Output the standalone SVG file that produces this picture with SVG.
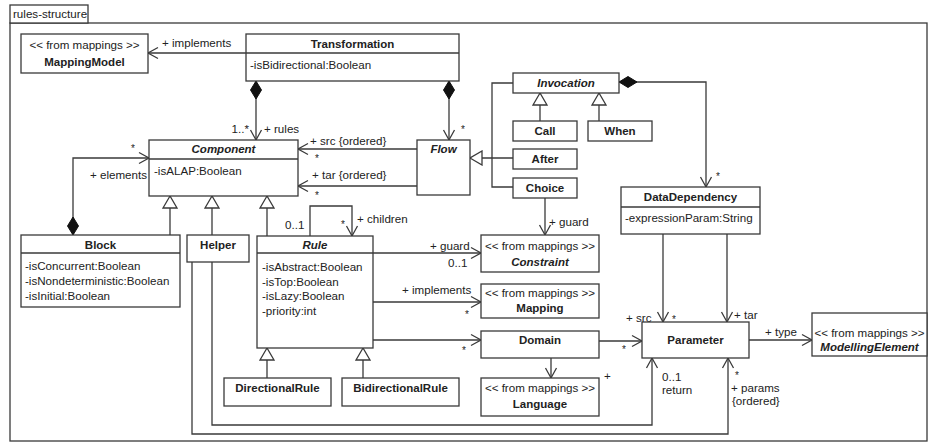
<svg xmlns="http://www.w3.org/2000/svg" width="929" height="443" viewBox="0 0 929 443">
<style>
.box{fill:#fff;stroke:#3a3a3a;stroke-width:1.3}
.ln{fill:none;stroke:#3a3a3a;stroke-width:1.3}
text{font-family:"Liberation Sans",Arial,sans-serif;font-size:11.6px;fill:#222}
.b{font-weight:bold;font-size:11.5px}
.bi{font-weight:bold;font-style:italic;font-size:11.5px}
.c{text-anchor:middle}
.e{text-anchor:end}
.s{font-size:10px}
</style>
<defs>
<marker id="arr" viewBox="-12 -7 14 14" refX="0" refY="0" markerWidth="14" markerHeight="14" markerUnits="userSpaceOnUse" orient="auto"><path d="M-10,-5.5 L0,0 L-10,5.5" fill="none" stroke="#3a3a3a" stroke-width="1.3"/></marker>
<marker id="dia" viewBox="-1 -7 21 14" refX="0" refY="0" markerWidth="21" markerHeight="14" markerUnits="userSpaceOnUse" orient="auto"><path d="M0,0 L9,-5.5 L18,0 L9,5.5 Z" fill="#111" stroke="#111" stroke-width="1"/></marker>
<marker id="gen" viewBox="-14 -8 15 16" refX="0" refY="0" markerWidth="15" markerHeight="16" markerUnits="userSpaceOnUse" orient="auto"><path d="M0,0 L-12,-7 L-12,7 Z" fill="#fff" stroke="#3a3a3a" stroke-width="1.3"/></marker>
</defs>
<rect width="929" height="443" fill="#fff"/>
<g id="frame">
<rect x="10" y="23" width="917" height="418" class="ln"/>
<rect x="10" y="5" width="78" height="18" class="box"/>
<text x="13" y="18">rules-structure</text>
</g>
<g id="connectors">
<path class="ln" d="M246,53 L148,53" marker-end="url(#arr)"/>
<path class="ln" d="M256,81 L256,140" marker-start="url(#dia)" marker-end="url(#arr)"/>
<path class="ln" d="M449,81 L449,140" marker-start="url(#dia)" marker-end="url(#arr)"/>
<path class="ln" d="M73,235 L73,158 L149,158" marker-start="url(#dia)" marker-end="url(#arr)"/>
<path class="ln" d="M417,149 L298,149" marker-end="url(#arr)"/>
<path class="ln" d="M417,186 L298,186" marker-end="url(#arr)"/>
<path class="ln" d="M619,82 L706,82 L706,187" marker-start="url(#dia)" marker-end="url(#arr)"/>
<path class="ln" d="M540,121 L540,93" marker-end="url(#gen)"/>
<path class="ln" d="M599,121 L599,93" marker-end="url(#gen)"/>
<path class="ln" d="M513,83 L492,83 L492,187 L513,187"/>
<path class="ln" d="M513,158 L470,158" marker-end="url(#gen)"/>
<path class="ln" d="M545,198 L545,235" marker-end="url(#arr)"/>
<path class="ln" d="M170,235 L170,196" marker-end="url(#gen)"/>
<path class="ln" d="M212,235 L212,196" marker-end="url(#gen)"/>
<path class="ln" d="M267,236 L267,196" marker-end="url(#gen)"/>
<path class="ln" d="M310,236 L310,206 L352,206 L352,236" marker-end="url(#arr)"/>
<path class="ln" d="M373,253 L481,253" marker-end="url(#arr)"/>
<path class="ln" d="M373,302 L481,302" marker-end="url(#arr)"/>
<path class="ln" d="M373,340 L481,340" marker-end="url(#arr)"/>
<path class="ln" d="M551,358 L551,378" marker-end="url(#arr)"/>
<path class="ln" d="M599,341 L642,341" marker-end="url(#arr)"/>
<path class="ln" d="M663,234 L663,322" marker-end="url(#arr)"/>
<path class="ln" d="M727,234 L727,322" marker-end="url(#arr)"/>
<path class="ln" d="M749,340 L812,340" marker-end="url(#arr)"/>
<path class="ln" d="M212,262 L212,425 L652,425 L652,358" marker-end="url(#arr)"/>
<path class="ln" d="M192,262 L192,434 L728,434 L728,358" marker-end="url(#arr)"/>
<path class="ln" d="M267,378 L267,348" marker-end="url(#gen)"/>
<path class="ln" d="M363,378 L363,348" marker-end="url(#gen)"/>
<text x="162" y="47">+ implements</text>
<text x="249" y="133" class="e">1..*</text>
<text x="264" y="133">+ rules</text>
<text x="461" y="133" class="s">*</text>
<text x="310" y="145">+ src {ordered}</text>
<text x="315" y="162" class="s">*</text>
<text x="312" y="179">+ tar {ordered}</text>
<text x="315" y="199" class="s">*</text>
<text x="716" y="180" class="s">*</text>
<text x="549" y="226">+ guard</text>
<text x="131" y="152" class="s">*</text>
<text x="90" y="179">+ elements</text>
<text x="285" y="229">0..1</text>
<text x="341" y="228" class="s">*</text>
<text x="357" y="223">+ children</text>
<text x="430" y="250">+ guard</text>
<text x="448" y="267">0..1</text>
<text x="402" y="294">+ implements</text>
<text x="465" y="318" class="s">*</text>
<text x="462" y="354" class="s">*</text>
<text x="604" y="380">+</text>
<text x="622" y="353" class="s">*</text>
<text x="626" y="322">+ src</text>
<text x="672" y="323" class="s">*</text>
<text x="734" y="319">+ tar</text>
<text x="765" y="336">+ type</text>
<text x="662" y="381">0..1</text>
<text x="662" y="394">return</text>
<text x="735" y="379" class="s">*</text>
<text x="731" y="392">+ params</text>
<text x="732" y="405">{ordered}</text>
</g>
<g id="MappingModel">
<rect x="21" y="34" width="127" height="39" class="box"/>
<text x="84.5" y="49" class="c">&lt;&lt; from mappings &gt;&gt;</text>
<text x="84.5" y="66" class="c b">MappingModel</text>
</g>
<g id="Transformation">
<rect x="246" y="34" width="213" height="47" class="box"/>
<line x1="246" y1="53" x2="459" y2="53" class="ln"/>
<text x="352.5" y="48" class="c b">Transformation</text>
<text x="250" y="69">-isBidirectional:Boolean</text>
</g>
<g id="Component">
<rect x="149" y="140" width="149" height="56" class="box"/>
<line x1="149" y1="159" x2="298" y2="159" class="ln"/>
<text x="223.5" y="153" class="c bi">Component</text>
<text x="154" y="175">-isALAP:Boolean</text>
</g>
<g id="Flow">
<rect x="417" y="140" width="53" height="55" class="box"/>
<text x="443.5" y="153" class="c bi">Flow</text>
</g>
<g id="Invocation">
<rect x="513" y="73" width="106" height="20" class="box"/>
<text x="566" y="87" class="c bi">Invocation</text>
</g>
<g id="Call">
<rect x="513" y="121" width="64" height="20" class="box"/>
<text x="545" y="135" class="c b">Call</text>
</g>
<g id="When">
<rect x="588" y="121" width="64" height="20" class="box"/>
<text x="620" y="135" class="c b">When</text>
</g>
<g id="After">
<rect x="513" y="149" width="64" height="20" class="box"/>
<text x="545" y="163" class="c b">After</text>
</g>
<g id="Choice">
<rect x="513" y="178" width="64" height="20" class="box"/>
<text x="545" y="192" class="c b">Choice</text>
</g>
<g id="DataDependency">
<rect x="621" y="187" width="139" height="47" class="box"/>
<line x1="621" y1="207" x2="760" y2="207" class="ln"/>
<text x="690.5" y="201" class="c b">DataDependency</text>
<text x="625" y="222">-expressionParam:String</text>
</g>
<g id="Block">
<rect x="21" y="235" width="159" height="72" class="box"/>
<line x1="21" y1="253" x2="180" y2="253" class="ln"/>
<text x="100.5" y="249" class="c b">Block</text>
<text x="25" y="270">-isConcurrent:Boolean</text>
<text x="25" y="285">-isNondeterministic:Boolean</text>
<text x="25" y="300">-isInitial:Boolean</text>
</g>
<g id="Helper">
<rect x="187" y="235" width="62" height="27" class="box"/>
<text x="218" y="249" class="c b">Helper</text>
</g>
<g id="Rule">
<rect x="257" y="236" width="116" height="112" class="box"/>
<line x1="257" y1="253" x2="373" y2="253" class="ln"/>
<text x="315" y="249" class="c bi">Rule</text>
<text x="262" y="271">-isAbstract:Boolean</text>
<text x="262" y="285.5">-isTop:Boolean</text>
<text x="262" y="300">-isLazy:Boolean</text>
<text x="262" y="314.5">-priority:int</text>
</g>
<g id="DirectionalRule">
<rect x="224" y="378" width="107" height="28" class="box"/>
<text x="277.5" y="392" class="c b">DirectionalRule</text>
</g>
<g id="BidirectionalRule">
<rect x="342" y="378" width="117" height="28" class="box"/>
<text x="400.5" y="392" class="c b">BidirectionalRule</text>
</g>
<g id="Constraint">
<rect x="481" y="235" width="118" height="37" class="box"/>
<text x="540" y="250" class="c">&lt;&lt; from mappings &gt;&gt;</text>
<text x="540" y="266" class="c bi">Constraint</text>
</g>
<g id="Mapping">
<rect x="481" y="284" width="118" height="34" class="box"/>
<text x="540" y="297" class="c">&lt;&lt; from mappings &gt;&gt;</text>
<text x="540" y="312" class="c b">Mapping</text>
</g>
<g id="Domain">
<rect x="481" y="331" width="118" height="27" class="box"/>
<text x="540" y="344" class="c b">Domain</text>
</g>
<g id="Language">
<rect x="481" y="378" width="118" height="38" class="box"/>
<text x="540" y="392" class="c">&lt;&lt; from mappings &gt;&gt;</text>
<text x="540" y="408" class="c b">Language</text>
</g>
<g id="Parameter">
<rect x="642" y="322" width="107" height="36" class="box"/>
<text x="695.5" y="344" class="c b">Parameter</text>
</g>
<g id="ModellingElement">
<rect x="812" y="313" width="115" height="43" class="box"/>
<text x="869.5" y="337" class="c">&lt;&lt; from mappings &gt;&gt;</text>
<text x="869.5" y="351" class="c bi">ModellingElement</text>
</g>
</svg>
